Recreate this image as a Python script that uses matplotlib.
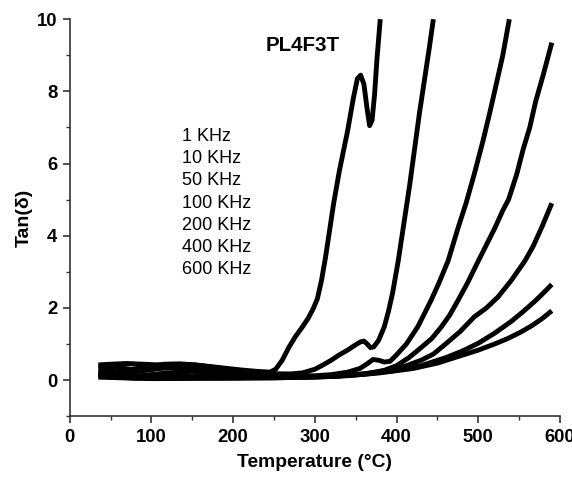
import matplotlib
matplotlib.use('Agg')
import matplotlib.pyplot as plt
from matplotlib.ticker import MultipleLocator

plt.rcParams['font.family'] = ['Liberation Sans', 'DejaVu Sans']

freqs = ['1 KHz', '10 KHz', '50 KHz', '100 KHz', '200 KHz', '400 KHz', '600 KHz']

t_1k = [35, 50, 70, 90, 110, 130, 150, 170, 190, 210, 230, 245, 252, 260,
        268, 276, 284, 292, 298, 303, 308, 313, 318, 323, 330, 340, 347, 352,
        356, 360, 364, 367, 370, 373, 376, 380]
v_1k = [0.42, 0.44, 0.46, 0.44, 0.42, 0.43, 0.42, 0.38, 0.33, 0.28, 0.24,
        0.22, 0.3, 0.55, 0.9, 1.2, 1.45, 1.72, 1.98, 2.25, 2.75, 3.4, 4.15,
        4.9, 5.8, 6.9, 7.8, 8.35, 8.45, 8.2, 7.5, 7.05, 7.2, 7.9, 8.9, 10.0]

t_10k = [35, 55, 75, 95, 115, 135, 155, 180, 210, 240, 270, 285, 300, 310,
         320, 330, 340, 350, 356, 360, 364, 368, 372, 378, 385, 390, 395, 402,
         410, 416, 422, 428, 434, 440, 445]
v_10k = [0.38, 0.36, 0.3, 0.36, 0.44, 0.45, 0.42, 0.34, 0.25, 0.18, 0.17,
         0.2, 0.3, 0.42, 0.55, 0.7, 0.83, 0.98, 1.06, 1.08, 1.0, 0.9, 0.92,
         1.1, 1.48, 1.9, 2.4, 3.3, 4.5, 5.4, 6.4, 7.4, 8.3, 9.2, 10.0]

t_50k = [35, 50, 70, 90, 110, 130, 160, 190, 220, 260, 300, 320, 340, 355,
         364, 371, 378, 385, 392, 400, 412, 426, 442, 452, 463, 475, 485, 495,
         506, 515, 522, 530, 538]
v_50k = [0.3, 0.25, 0.2, 0.26, 0.32, 0.35, 0.3, 0.2, 0.14, 0.11, 0.12, 0.15,
         0.22, 0.32, 0.45, 0.57, 0.55, 0.5, 0.52, 0.7, 1.0, 1.48, 2.2, 2.7,
         3.3, 4.2, 4.9, 5.7, 6.65, 7.5, 8.2, 9.0, 10.0]

t_100k = [35, 50, 70, 90, 120, 150, 180, 220, 260, 320, 350, 370, 385, 400,
          415, 430, 443, 455, 465, 475, 487, 500, 510, 520, 530, 537, 547,
          555, 563, 570, 580, 590]
v_100k = [0.22, 0.15, 0.1, 0.13, 0.2, 0.24, 0.18, 0.1, 0.08, 0.1, 0.15, 0.2,
          0.27, 0.4, 0.62, 0.9, 1.15, 1.48, 1.8, 2.2, 2.7, 3.3, 3.75, 4.2,
          4.7, 5.0, 5.7, 6.4, 7.0, 7.7, 8.5, 9.35]

t_200k = [35, 55, 80, 120, 180, 250, 320, 360, 390, 410, 430, 445, 460, 478,
          495, 510, 524, 540, 557, 567, 578, 590]
v_200k = [0.17, 0.1, 0.07, 0.1, 0.1, 0.07, 0.1, 0.17, 0.28, 0.38, 0.55,
          0.72, 1.0, 1.35, 1.75, 2.0, 2.3, 2.75, 3.3, 3.7, 4.25, 4.9]

t_400k = [35, 80, 150, 250, 320, 360, 400, 430, 460, 480, 500, 520, 540,
          555, 570, 580, 590]
v_400k = [0.12, 0.05, 0.06, 0.06, 0.1, 0.16, 0.27, 0.4, 0.62, 0.8, 1.02,
          1.3, 1.62, 1.9, 2.2, 2.42, 2.65]

t_600k = [35, 100, 200, 300, 340, 380, 420, 450, 475, 500, 520, 536, 552,
          565, 578, 590]
v_600k = [0.08, 0.04, 0.05, 0.08, 0.12, 0.2, 0.32, 0.47, 0.65, 0.83, 1.0,
          1.15, 1.33, 1.5, 1.7, 1.92]

series = [(t_1k, v_1k), (t_10k, v_10k), (t_50k, v_50k), (t_100k, v_100k),
          (t_200k, v_200k), (t_400k, v_400k), (t_600k, v_600k)]

fig = plt.figure(figsize=(5.72, 4.8), dpi=100)
ax = fig.add_axes([0.122, 0.133, 0.857, 0.827])

for t, v in series:
    ax.plot(t, v, color='black', lw=3.5, solid_capstyle='butt',
            solid_joinstyle='round')

ax.set_xlim(0, 600)
ax.set_ylim(-1, 10)
ax.xaxis.set_major_locator(MultipleLocator(100))
ax.xaxis.set_minor_locator(MultipleLocator(50))
ax.yaxis.set_major_locator(MultipleLocator(2))
ax.yaxis.set_minor_locator(MultipleLocator(1))
ax.spines['top'].set_visible(False)
ax.spines['right'].set_visible(False)
for s in ('left', 'bottom'):
    ax.spines[s].set_linewidth(1.2)
    ax.spines[s].set_color('#333333')
ax.tick_params(which='major', direction='out', length=5, width=1.2,
               labelsize=13.3, color='#333333', pad=4)
ax.tick_params(which='minor', direction='out', length=3, width=1.0,
               color='#333333')
for lab in ax.get_xticklabels() + ax.get_yticklabels():
    lab.set_fontweight('bold')

ax.set_xlabel('Temperature (°C)', fontsize=13.9, fontweight='bold', labelpad=6)
ax.set_ylabel('Tan(δ)', fontsize=14, fontweight='bold', labelpad=3)

ax.text(285, 9.28, 'PL4F3T', fontsize=14.8, fontweight='bold',
        ha='center', va='center')
for i, f in enumerate(freqs):
    ax.text(137, 6.76 - i * 0.618, f, fontsize=13, ha='left', va='center')

plt.savefig('out.png', dpi=100)
